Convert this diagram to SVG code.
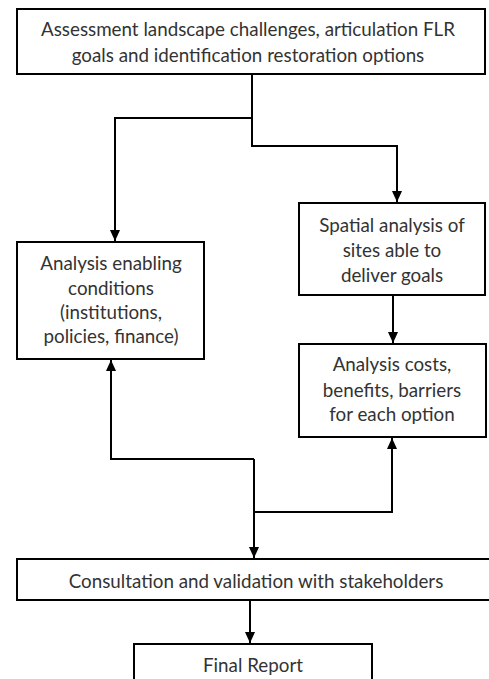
<svg xmlns="http://www.w3.org/2000/svg" width="489" height="679" viewBox="0 0 489 679">
<style>
.box{fill:#fff;stroke:#000;stroke-width:2}
.t{font-family:Lato,"Open Sans",sans-serif;font-size:18.8px;fill:#333;text-anchor:middle}
.c{fill:none;stroke:#000;stroke-width:2}
</style>
<defs>
<marker id="ah" markerWidth="11" markerHeight="12" refX="12" refY="5.5" orient="auto" markerUnits="userSpaceOnUse" viewBox="0 0 12 11">
<path d="M0,0 L12,5.5 L0,11 Z" fill="#000"/>
</marker>
</defs>
<rect width="489" height="679" fill="#fff"/>
<g id="connectors">
<path class="c" d="M252,74 V146 H397 V202" marker-end="url(#ah)"/>
<path class="c" d="M252,118 H115 V241" marker-end="url(#ah)"/>
<path class="c" d="M393,295 V343" marker-end="url(#ah)"/>
<path class="c" d="M254,459 H111 V360" marker-end="url(#ah)"/>
<path class="c" d="M254,512 H392 V438" marker-end="url(#ah)"/>
<path class="c" d="M254,459 V558" marker-end="url(#ah)"/>
<path class="c" d="M250,600 V643" marker-end="url(#ah)"/>
</g>
<g id="n-assessment">
<rect class="box" x="17" y="9" width="468" height="65"/>
<text class="t" x="248" y="36">Assessment landscape challenges, articulation FLR</text>
<text class="t" x="248" y="62">goals and identification restoration options</text>
</g>
<g id="n-enabling">
<rect class="box" x="17" y="242" width="187" height="117"/>
<text class="t" x="111" y="270">Analysis enabling</text>
<text class="t" x="111" y="295">conditions</text>
<text class="t" x="111" y="319">(institutions,</text>
<text class="t" x="111" y="343">policies, finance)</text>
</g>
<g id="n-spatial">
<rect class="box" x="299" y="203" width="186" height="92"/>
<text class="t" x="392" y="232">Spatial analysis of</text>
<text class="t" x="392" y="257">sites able to</text>
<text class="t" x="392" y="282">deliver goals</text>
</g>
<g id="n-costs">
<rect class="box" x="299" y="344" width="187" height="93"/>
<text class="t" x="392" y="371">Analysis costs,</text>
<text class="t" x="392" y="397">benefits, barriers</text>
<text class="t" x="392" y="421">for each option</text>
</g>
<g id="n-consultation">
<rect class="box" x="17" y="559" width="480" height="41"/>
<text class="t" x="256" y="588">Consultation and validation with stakeholders</text>
</g>
<g id="n-final">
<rect class="box" x="134" y="644" width="238" height="50"/>
<text class="t" x="253" y="672">Final Report</text>
</g>
</svg>
